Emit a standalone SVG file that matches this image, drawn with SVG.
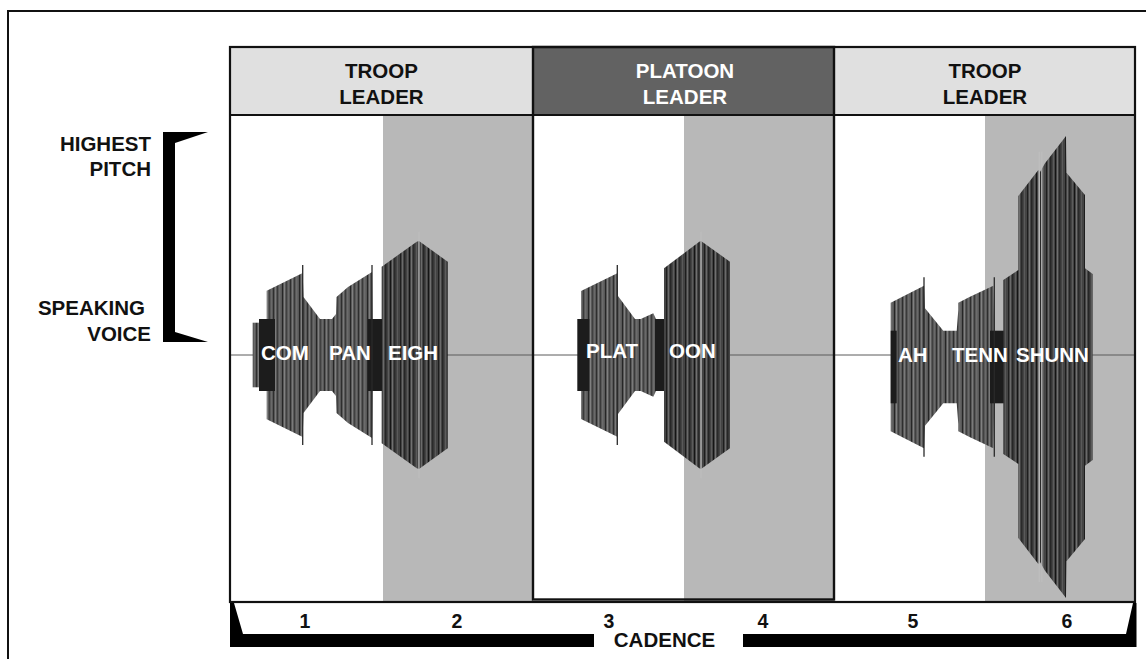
<svg xmlns="http://www.w3.org/2000/svg" width="1146" height="659" viewBox="0 0 1146 659">
<style>
text{font-family:"Liberation Sans",Arial,sans-serif;font-weight:bold;font-size:20.5px;fill:#111}
.c{text-anchor:middle}
.e{text-anchor:end}
text.w{fill:#fff}
.n{font-size:19.5px}
.shade{fill:#b8b8b8}
.hl{fill:#e0e0e0;stroke:#111;stroke-width:2}
.hd{fill:#626262;stroke:#111;stroke-width:2}
.wave{fill:url(#stripes)}
.waved{fill:url(#stripesD)}
.blk{fill:#1c1c1c}
.spk{stroke:#2a2a2a;stroke-width:1.3}
.lspk{stroke:#bdbdbd;stroke-width:1.3}
</style>
<defs>
<pattern id="stripes" width="17" height="10" patternUnits="userSpaceOnUse">
<rect width="17" height="10" fill="#585858"/>
<rect x="1" width="1" height="10" fill="#2e2e2e"/>
<rect x="3" width="1" height="10" fill="#7a7a7a"/>
<rect x="5" width="1" height="10" fill="#3a3a3a"/>
<rect x="7" width="1.5" height="10" fill="#6c6c6c"/>
<rect x="10" width="1" height="10" fill="#262626"/>
<rect x="12" width="1" height="10" fill="#808080"/>
<rect x="14" width="1" height="10" fill="#404040"/>
<rect x="16" width="1" height="10" fill="#6a6a6a"/>
</pattern>
<pattern id="stripesD" width="19" height="10" patternUnits="userSpaceOnUse">
<rect width="19" height="10" fill="#444"/>
<rect x="1" width="1" height="10" fill="#1e1e1e"/>
<rect x="3" width="1" height="10" fill="#6a6a6a"/>
<rect x="5" width="1.5" height="10" fill="#262626"/>
<rect x="8" width="1" height="10" fill="#5c5c5c"/>
<rect x="10" width="1" height="10" fill="#151515"/>
<rect x="12" width="1" height="10" fill="#707070"/>
<rect x="14" width="1.5" height="10" fill="#2a2a2a"/>
<rect x="17" width="1" height="10" fill="#5a5a5a"/>
</pattern>
</defs>
<rect width="1146" height="659" fill="#fff"/>
<path d="M8,659 V11 H1146" fill="none" stroke="#111" stroke-width="2"/>

<g id="left-scale">
<polygon points="163,132 208,132 175,143 175,332 208,342 163,342" fill="#000"/>
<text class="e" x="151" y="151">HIGHEST</text>
<text class="e" x="151" y="176">PITCH</text>
<text class="e" x="145" y="315">SPEAKING</text>
<text class="e" x="151" y="341">VOICE</text>
</g>

<g id="chart-bg">
<rect x="383" y="115" width="150" height="487" class="shade"/>
<rect x="684" y="115" width="150" height="487" class="shade"/>
<rect x="985" y="115" width="150" height="487" class="shade"/>
<line x1="230" y1="355" x2="1135" y2="355" stroke="#5a5a5a" stroke-width="1"/>
</g>

<g id="panel1-wave">
<rect x="252.7" y="322.7" width="14" height="64.6" class="wave"/>
<polygon class="wave" points="266.7,290.7 302.7,273 303.5,297 320,319 332,319 336,314 336.5,297 348,287 372,272 372.5,319 372.5,391 372,438 348,423 336.5,413 336,396 332,391 320,391 303.5,413 302.7,437 266.7,419.3"/>
<rect x="259" y="319" width="16" height="72" class="blk"/>
<rect x="368" y="319" width="19" height="72" class="blk"/>
<polygon class="waved" points="381.7,266.7 416.7,241.7 419,241 447.7,261.7 447.7,448.3 419,469 416.7,468.3 381.7,443.3"/>
<line x1="302.7" y1="265" x2="302.7" y2="445" class="spk"/>
<line x1="372" y1="265" x2="372" y2="445" class="spk"/>
<line x1="419" y1="231.7" x2="419" y2="478.3" class="lspk"/>
<text class="w" x="261" y="360">COM</text>
<text class="w" x="329" y="360">PAN</text>
<text class="w" x="388" y="360">EIGH</text>
</g>

<g id="panel2-wave">
<polygon class="wave" points="581,291 617.3,273.3 618,296 635,319 640.7,319 653.3,313.3 656,319 656,391 653.3,396.7 640.7,391 635,391 618,414 617.3,436.7 581,419"/>
<rect x="577.3" y="319" width="12" height="72" class="blk"/>
<rect x="655" y="319" width="15" height="72" class="blk"/>
<polygon class="waved" points="664,268.3 699.3,241.7 701,241 730,261.7 730,448.3 701,469 699.3,468.3 664,441.7"/>
<line x1="617.3" y1="265" x2="617.3" y2="445" class="spk"/>
<line x1="701" y1="231.7" x2="701" y2="478.3" class="lspk"/>
<text class="w" x="586" y="358">PLAT</text>
<text class="w" x="669" y="358">OON</text>
</g>

<g id="panel3-wave">
<polygon class="wave" points="890.7,302.7 924,285.7 925,308.3 943.3,330.7 956.7,330.7 958.3,310 958.3,302.7 970,296.7 993.3,285.7 994.3,330.7 994.3,403.3 993.3,448.3 970,437.3 958.3,431.3 958.3,424 956.7,403.3 943.3,403.3 925,425.7 924,448.3 890.7,431.3"/>
<rect x="890.7" y="330.7" width="6" height="72.6" class="blk"/>
<rect x="990" y="330.7" width="19.3" height="72.6" class="blk"/>
<polygon class="waved" points="1003.3,280 1018.3,270 1018.3,196 1038.3,170 1040,172 1045,163.3 1066,136 1066.5,172.7 1085,195 1085,268.3 1092.7,274 1092.7,460 1085,465.7 1085,539 1066.5,561.3 1066,598 1045,570.7 1040,562 1038.3,564 1018.3,538 1018.3,464 1003.3,454"/>
<line x1="924" y1="277.3" x2="924" y2="456.7" class="spk"/>
<line x1="994.3" y1="277.3" x2="994.3" y2="456.7" class="spk"/>
<line x1="1039.3" y1="151.7" x2="1039.3" y2="582" class="lspk"/>
<line x1="1041.8" y1="151.7" x2="1041.8" y2="582" class="lspk"/>
<text class="w" x="898" y="362">AH</text>
<text class="w" x="952" y="362">TENN</text>
<text class="w" x="1016" y="362">SHUNN</text>
</g>

<g id="headers">
<rect x="230" y="47" width="303" height="68" class="hl"/>
<rect x="834" y="47" width="301" height="68" class="hl"/>
<rect x="533" y="47" width="301" height="68" class="hd"/>
<text class="c" x="381.5" y="78">TROOP</text>
<text class="c" x="381.5" y="104">LEADER</text>
<text class="c w" x="685" y="78">PLATOON</text>
<text class="c w" x="685" y="104">LEADER</text>
<text class="c" x="985" y="78">TROOP</text>
<text class="c" x="985" y="104">LEADER</text>
</g>

<g id="frames">
<rect x="230" y="47" width="905" height="555" fill="none" stroke="#111" stroke-width="2.2"/>
<rect x="533" y="47" width="301" height="552.5" fill="none" stroke="#111" stroke-width="2.4"/>
</g>

<g id="cadence">
<polygon points="230,603 234,603 243,634 594,634 594,647 230,647" fill="#000"/>
<polygon points="743,634 1126,634 1133,603 1136.5,603 1136.5,647 743,647" fill="#000"/>
<text class="c n" x="305" y="628">1</text>
<text class="c n" x="457" y="628">2</text>
<text class="c n" x="609" y="628">3</text>
<text class="c n" x="763" y="628">4</text>
<text class="c n" x="913" y="628">5</text>
<text class="c n" x="1067" y="628">6</text>
<text class="c" x="664.5" y="647">CADENCE</text>
</g>
</svg>
